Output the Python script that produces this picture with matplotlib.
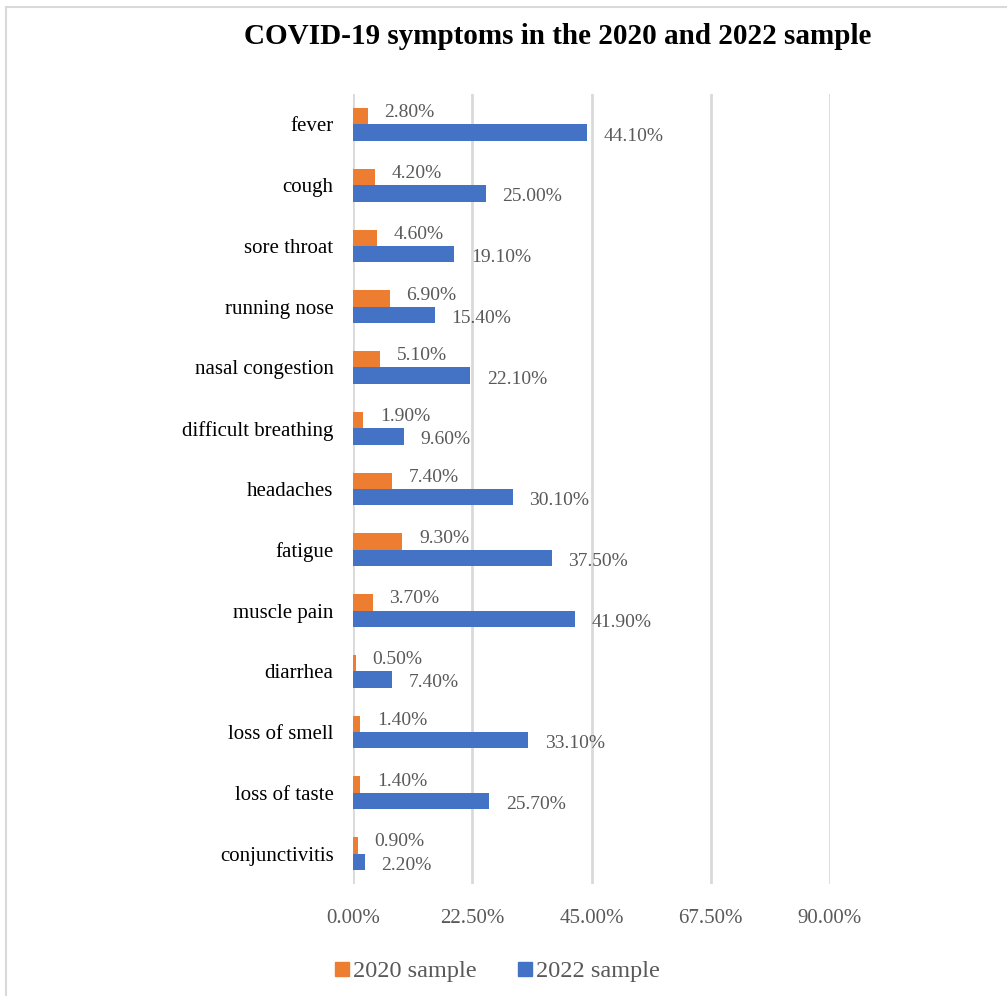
import matplotlib.pyplot as plt
from matplotlib.lines import Line2D
import numpy as np

plt.rcParams['font.family'] = ['Liberation Serif', 'DejaVu Serif']

# data
symptoms = ['fever', 'cough', 'sore throat', 'running nose', 'nasal congestion',
            'difficult breathing', 'headaches', 'fatigue', 'muscle pain',
            'diarrhea', 'loss of smell', 'loss of taste', 'conjunctivitis']
s2020 = [2.8, 4.2, 4.6, 6.9, 5.1, 1.9, 7.4, 9.3, 3.7, 0.5, 1.4, 1.4, 0.9]
s2022 = [44.1, 25.0, 19.1, 15.4, 22.1, 9.6, 30.1, 37.5, 41.9, 7.4, 33.1, 25.7, 2.2]
xticks = [0, 22.5, 45, 67.5, 90]

orange = '#ED7D31'
blue = '#4472C4'
gray = '#595959'

fig = plt.figure(figsize=(10.07, 9.96), dpi=100)
ax = fig.add_axes([353/1007, 1-884/996, (830-353)/1007, (884-94)/996])

y = np.arange(len(symptoms))
h = 0.27
ax.barh(y - h/2, s2020, height=h, color=orange, label='2020 sample', zorder=3)
ax.barh(y + h/2, s2022, height=h, color=blue, label='2022 sample', zorder=3)

# value labels
for yi, v in zip(y, s2020):
    ax.annotate(f'{v:.2f}%', (v, yi - h/2), xytext=(12, 2.5), textcoords='offset points',
                ha='left', va='center', fontsize=14, color=gray)
for yi, v in zip(y, s2022):
    ax.annotate(f'{v:.2f}%', (v, yi + h/2), xytext=(12, -2.5), textcoords='offset points',
                ha='left', va='center', fontsize=14, color=gray)

ax.set_ylim(len(symptoms) - 0.5, -0.5)
ax.set_xlim(0, 90)
ax.set_yticks(y)
ax.set_yticklabels(symptoms, fontsize=15)
ax.set_xticks(xticks)
ax.set_xticklabels([f'{t:.2f}%' for t in xticks], fontsize=15, color=gray)
ax.tick_params(axis='y', length=0, pad=14)
ax.tick_params(axis='x', length=0, pad=18)
ax.grid(axis='x', color='#D9D9D9', linewidth=2, zorder=0)
for s in ax.spines.values():
    s.set_visible(False)

fig.suptitle('COVID-19 symptoms in the 2020 and 2022 sample', x=558/1007, y=1-37/996,
             fontsize=21, fontweight='bold', va='center')

handles = [Line2D([], [], marker='s', linestyle='', color=orange, markersize=10),
           Line2D([], [], marker='s', linestyle='', color=blue, markersize=10)]
leg = fig.legend(handles, ['2020 sample', '2022 sample'], loc='center',
                 bbox_to_anchor=(496/1007, 1-971/996), ncol=2, frameon=False,
                 fontsize=17.5, handletextpad=0.05, columnspacing=1.6, handlelength=0.8)
for t in leg.get_texts():
    t.set_color(gray)

# frame (top and left edges visible)
fig.add_artist(Line2D([6/1007, 1], [1-7/996, 1-7/996], color='#D9D9D9', linewidth=1.5))
fig.add_artist(Line2D([6/1007, 6/1007], [0, 1-7/996], color='#D9D9D9', linewidth=1.5))

fig.savefig('out.png', dpi=100)
